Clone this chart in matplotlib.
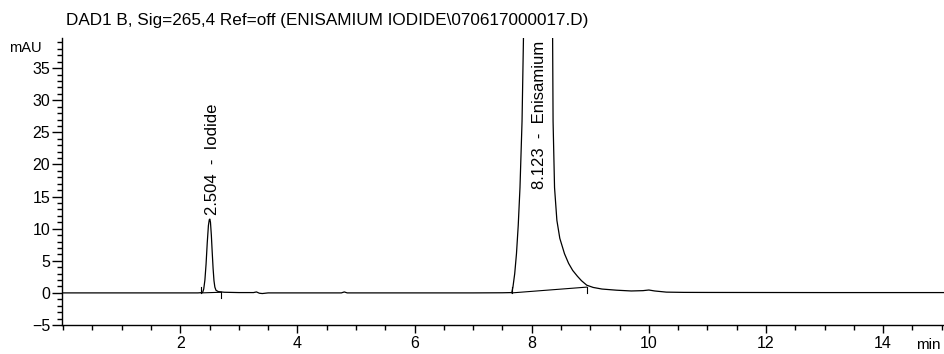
import matplotlib
matplotlib.use("Agg")
import matplotlib.pyplot as plt
from matplotlib.ticker import MultipleLocator

plt.rcParams['font.family'] = ['Liberation Sans', 'DejaVu Sans']

# Chromatogram trace (time in min, signal in mAU)
time_min = [0.0, 0.5, 1.0, 1.5, 2.0, 2.3, 2.38, 2.40, 2.42, 2.44, 2.46, 2.48,
            2.495, 2.504, 2.515, 2.53, 2.545, 2.56, 2.575, 2.59, 2.61, 2.65,
            2.75, 3.0, 3.25, 3.30, 3.35, 3.40, 3.5, 4.0, 4.5, 4.75, 4.8, 4.85,
            5.0, 6.0, 7.0, 7.5, 7.66, 7.68, 7.71, 7.74, 7.77, 7.80, 7.835,
            7.86, 7.95, 8.123, 8.30, 8.357, 8.365, 8.39, 8.43, 8.48, 8.56,
            8.63, 8.70, 8.78, 8.85, 8.94, 9.05, 9.2, 9.45, 9.7, 9.9, 10.0,
            10.1, 10.3, 10.6, 11.0, 12.0, 13.0, 14.0, 15.05]
signal_mau = [0.0, 0.0, 0.0, 0.0, 0.0, 0.0, 0.05, 0.6, 2.0, 4.5, 7.8, 10.5,
              11.4, 11.5, 11.0, 9.0, 6.3, 3.8, 1.9, 0.9, 0.4, 0.2,
              0.1, 0.05, 0.05, 0.15, -0.05, -0.1, 0.0, 0.0, 0.0, 0.0, 0.15, 0.0,
              0.0, 0.0, 0.0, 0.02, 0.05, 0.93, 3.0, 6.1, 10.5, 16.4, 26.7,
              40.0, 150.0, 400.0, 150.0, 40.0, 26.7, 16.4, 11.3, 8.5, 6.1,
              4.6, 3.5, 2.6, 1.9, 1.2, 0.85, 0.6, 0.42, 0.3, 0.35, 0.45,
              0.3, 0.12, 0.08, 0.07, 0.06, 0.05, 0.05, 0.05]

# Integration baselines (start, end) for each peak
peak_names = ["Iodide", "Enisamium"]
peak_rt = [2.504, 8.123]
base_start_t = [2.36, 7.66]
base_start_v = [0.0, 0.0]
base_end_t = [2.70, 8.94]
base_end_v = [0.1, 0.9]
label_y = [12.2, 16.2]
label_x = [2.55, 8.14]

fig = plt.figure(figsize=(9.44, 3.54), dpi=100)
ax = fig.add_axes([62 / 944, 1 - 325 / 354, 1 - 62 / 944, (325 - 38) / 354])

ax.plot(time_min, signal_mau, color='black', lw=0.9)

for i in range(len(peak_names)):
    ax.plot([base_start_t[i], base_end_t[i]], [base_start_v[i], base_end_v[i]],
            color='black', lw=0.8)
    # integration event markers
    ax.plot([base_start_t[i], base_start_t[i]], [base_start_v[i], base_start_v[i] + 0.9],
            color='black', lw=0.8)
    ax.plot([base_end_t[i], base_end_t[i]], [base_end_v[i], base_end_v[i] - 0.9],
            color='black', lw=0.8)
    ax.text(label_x[i], label_y[i], f"{peak_rt[i]:.3f}  -  {peak_names[i]}",
            rotation=90, ha='center', va='bottom', fontsize=12)

ax.set_xlim(-0.02, 15.04)
ax.set_ylim(-5, 39.7)

ax.spines['top'].set_visible(False)
ax.spines['right'].set_visible(False)
for s in ('left', 'bottom'):
    ax.spines[s].set_linewidth(1.0)

ax.set_xticks([2, 4, 6, 8, 10, 12, 14])
ax.xaxis.set_minor_locator(MultipleLocator(0.5))
ax.yaxis.set_major_locator(MultipleLocator(5))
ax.yaxis.set_minor_locator(MultipleLocator(1))
ax.tick_params(axis='x', which='major', length=6, width=1, labelsize=11.5, pad=2)
ax.tick_params(axis='x', which='minor', length=3.6, width=1)
ax.tick_params(axis='y', which='major', length=7.5, width=1, labelsize=11.5, pad=1)
ax.tick_params(axis='y', which='minor', length=3.6, width=1)

fig.text(66 / 944, 1 - 21 / 354, "DAD1 B, Sig=265,4 Ref=off (ENISAMIUM IODIDE\\070617000017.D)",
         ha='left', va='center', fontsize=12.3)
fig.text(9 / 944, 1 - 48 / 354, "mAU", ha='left', va='center', fontsize=10.5)
fig.text(941 / 944, 1 - 345 / 354, "min", ha='right', va='center', fontsize=11)

fig.savefig("out.png", dpi=100)
